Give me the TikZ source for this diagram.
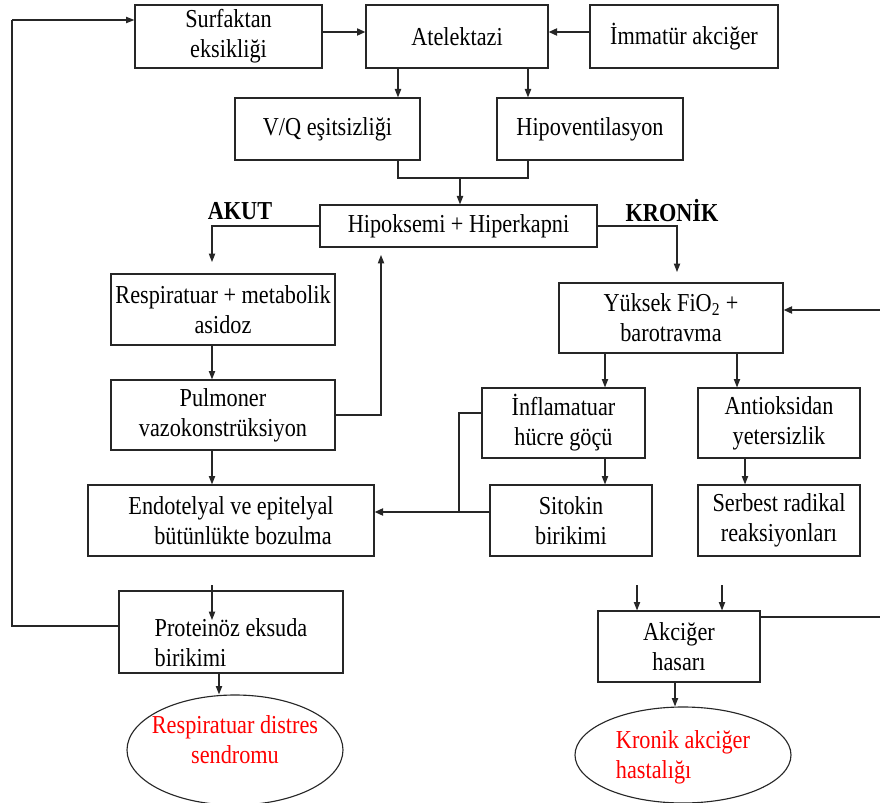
\documentclass[tikz,border=0pt]{standalone}
\usepackage{fontspec}
\setmainfont[FakeStretch=0.86]{Liberation Serif}
\usetikzlibrary{
  arrows.meta,
  positioning,
  shapes.geometric,
  calc
}
\definecolor{flowline}{HTML}{262626}
\definecolor{flowred}{HTML}{FF0000}

\begin{document}
\begin{tikzpicture}[
      box/.style={
        rectangle, draw=flowline, line width=0.8pt,
        inner sep=2pt, align=center,
        font=\fontsize{18.4}{21.3}\selectfont
      },
      endbox/.style={
        ellipse, draw=flowline, line width=0.8pt,
        inner sep=0pt
      },
      boxtext/.style={font=\fontsize{18.4}{21.3}\selectfont, align=left},
      redtext/.style={font=\fontsize{18.4}{21.3}\selectfont\color{flowred}},
      arrow/.style={-{Triangle[length=6pt,width=4.5pt]}, line width=0.8pt, flowline},
      thickarrow/.style={-{Triangle[length=6pt,width=5pt]}, line width=1.3pt, flowline},
      wire/.style={line width=0.8pt, flowline},
      branch/.style={font=\fontsize{18.4}{21.3}\selectfont\bfseries}
    ]
      \useasboundingbox (0,0) rectangle (22,-20.075);

      \node[box, minimum width=4.675cm, minimum height=1.575cm] (surf) at (5.7125,-0.9125) {Surfaktan\\eksikliği};
      \node[box, minimum width=4.55cm, minimum height=1.575cm] (atel) at (11.425,-0.9125) {Atelektazi};
      \node[box, minimum width=4.7cm, minimum height=1.575cm] (imma) at (17.1,-0.9125) {İmmatür akciğer};
      \node[box, minimum width=4.625cm, minimum height=1.55cm] (vq) at (8.1875,-3.225) {V/Q eşitsizliği};
      \node[box, minimum width=4.65cm, minimum height=1.55cm] (hipo) at (14.75,-3.225) {Hipoventilasyon};
      \node[box, minimum width=6.925cm, minimum height=1.05cm] (hh) at (11.4625,-5.65) {Hipoksemi + Hiperkapni};

      \node[branch] (akut) at (6.0,-5.275) {AKUT};
      \node[branch] (kronik) at (16.8,-5.275) {KRONİK};

      \node[box, minimum width=5.6cm, minimum height=1.775cm] (resp) at (5.575,-7.7375) {Respiratuar + metabolik\\asidoz};
      \node[box, minimum width=5.6cm, minimum height=1.75cm] (pulm) at (5.575,-10.375) {Pulmoner\\vazokonstrüksiyon};
      \node[box, minimum width=7.15cm, minimum height=1.775cm] (endo) at (5.775,-13.0125) {Endotelyal ve epitelyal\\\hspace*{0.6cm}bütünlükte bozulma};
      \node[box, minimum width=5.6cm, minimum height=2.05cm] (prot) at (5.775,-15.8) {};
      \node[boxtext] (prottext) at ([yshift=-0.27cm]prot.center) {Proteinöz eksuda\\birikimi};
      \node[endbox, minimum width=5.4cm, minimum height=2.75cm] (rds) at (5.875,-18.75) {};
      \node[redtext, align=center] (rdstext) at ([yshift=0.25cm]rds.center) {Respiratuar distres\\sendromu};

      \node[box, minimum width=5.6cm, minimum height=1.75cm] (yuk) at (16.775,-7.95) {Yüksek FiO\textsubscript{2} +\\barotravma};
      \node[box, minimum width=4.075cm, minimum height=1.75cm] (infl) at (14.0875,-10.575) {İnflamatuar\\hücre göçü};
      \node[box, minimum width=4.05cm, minimum height=1.75cm] (anti) at (19.475,-10.575) {Antioksidan\\yetersizlik};
      \node[box, minimum width=4.05cm, minimum height=1.775cm] (sito) at (14.275,-13.0125) {Sitokin\\birikimi};
      \node[box, minimum width=4.05cm, minimum height=1.775cm] (serb) at (19.475,-13.0125) {Serbest radikal\\reaksiyonları};
      \node[box, minimum width=4.05cm, minimum height=1.775cm] (akci) at (16.975,-16.1625) {Akciğer\\hasarı};
      \node[endbox, minimum width=5.4cm, minimum height=2.4cm] (kah) at (17.075,-18.875) {};
      \node[redtext, align=left] (kahtext) at ([yshift=-0.05cm]kah.center) {Kronik akciğer\\hastalığı};

      \coordinate (vqx) at (9.95,0);
      \coordinate (hvx) at (13.2,0);
      \coordinate (jn) at (11.5,-4.45);
      \coordinate (aku) at (5.3,-6.55);
      \coordinate (kro) at (16.925,-6.8);
      \coordinate (fb) at (9.525,-6.375);
      \coordinate (re1) at (22,-7.75);
      \coordinate (re2) at (22,-15.425);
      \coordinate (inx) at (15.125,0);
      \coordinate (anx) at (18.425,0);
      \coordinate (srx) at (18.625,0);
      \coordinate (mj) at (11.475,-12.8);
      \coordinate (pin) at (5.3,-14.625);
      \coordinate (lb) at (0.3,-0.5);
      \coordinate (rdx) at (5.475,0);
      \coordinate (ak1) at (15.925,-14.625);
      \coordinate (ak2) at (18.05,-14.625);

      \draw[thickarrow] (surf.east |- 0,-0.8) -- (atel.west |- 0,-0.8);
      \draw[thickarrow] (imma.west |- 0,-0.8) -- (atel.east |- 0,-0.8);
      \draw[arrow] (vqx |- atel.south) -- (vqx |- vq.north);
      \draw[arrow] (hvx |- atel.south) -- (hvx |- hipo.north);
      \draw[wire] (vqx |- vq.south) |- (jn) -| (hvx |- hipo.south);
      \draw[arrow] (jn) -- (jn |- hh.north);

      \draw[arrow] (hh.west) -| (aku);
      \draw[arrow] (hh.east) -| (kro);
      \draw[arrow] (aku |- resp.south) -- (aku |- pulm.north);
      \draw[arrow] (aku |- pulm.south) -- (aku |- endo.north);
      \draw[arrow] (pulm.east) -| (fb);

      \draw[thickarrow] (re1) -- (re1 -| yuk.east);
      \draw[arrow] (inx |- yuk.south) -- (inx |- infl.north);
      \draw[arrow] (anx |- yuk.south) -- (anx |- anti.north);
      \draw[arrow] (inx |- infl.south) -- (inx |- sito.north);
      \draw[arrow] (srx |- anti.south) -- (srx |- serb.north);
      \draw[wire] ([yshift=0.25cm]infl.west) -| (mj);
      \draw[thickarrow] (sito.west |- mj) -- (endo.east |- mj);

      \draw[arrow] (pin) -- ++(0,-0.875);
      \draw[wire] ([yshift=0.15cm]prot.west) -| (lb);
      \draw[arrow] (lb) -- (lb -| surf.west);
      \draw[arrow] (rdx |- prot.south) -- (rdx |- rds.north);

      \draw[arrow] (ak1) -- (ak1 |- akci.north);
      \draw[arrow] (ak2) -- (ak2 |- akci.north);
      \draw[wire] (re2 -| akci.east) -- (re2);
      \draw[arrow] ([xshift=-0.1cm]akci.south) -- ([xshift=-0.2cm]kah.north);
    \end{tikzpicture}
\end{document}
